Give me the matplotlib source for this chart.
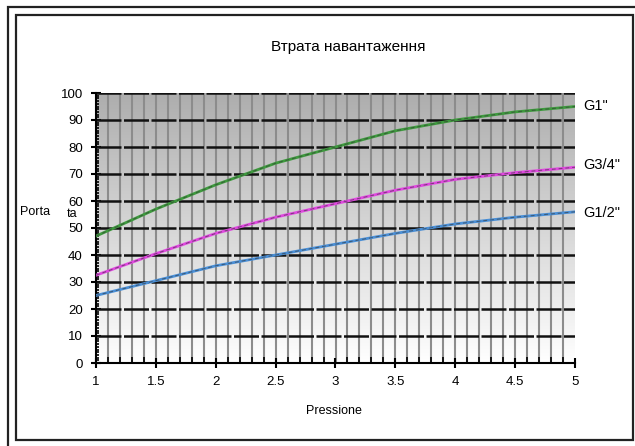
import matplotlib.pyplot as plt
import numpy as np
from matplotlib.patches import Rectangle

plt.rcParams['font.family'] = ['Liberation Sans', 'DejaVu Sans']

# data
pressione = [1, 1.5, 2, 2.5, 3, 3.5, 4, 4.5, 5]
g1 = [47, 57, 66, 74, 80, 86, 90, 93, 95]
g34 = [32.5, 40.5, 48, 54, 59, 64, 68, 70.5, 72.5]
g12 = [25, 30.5, 36, 40, 44, 48, 51.5, 54, 56]
series = [("G1\"", g1, "#3e9a3e"), ("G3/4\"", g34, "#e048e0"), ("G1/2\"", g12, "#4a8fd6")]
label_y = [95, 73.5, 55.5]

W, H = 635, 446
fig = plt.figure(figsize=(W / 100, H / 100), dpi=100)
ax = fig.add_axes([96 / W, 1 - 363 / H, (575 - 96) / W, 270 / H])

# gray (top) to white (bottom) gradient in the plot area
shade = np.linspace(0.68, 1.0, 256)
grad = np.repeat(shade[:, None, None], 3, axis=2)
ax.imshow(grad, extent=[1, 5, 0, 100], aspect='auto', origin='upper', zorder=0)

# grid: gray verticals every 0.1, black horizontals every 10
for xv in np.arange(1.1, 5.0, 0.1):
    ax.axvline(xv, color='#8c8c8c', lw=1.5, zorder=1)
for yv in range(10, 101, 10):
    ax.axhline(yv, color='#111111', lw=1.8, ls=(0, (10, 1)), zorder=2)

for (name, vals, col), ly in zip(series, label_y):
    ax.plot(pressione, vals, color=col, lw=2.0, zorder=3)
    ax.plot(pressione, vals, color='#333333', lw=0.7, ls=(0, (4, 3)), alpha=0.6, zorder=4)
    ax.text(5.07, ly, name, fontsize=10.5, va='center', ha='left', clip_on=False)

ax.set_xlim(1, 5)
ax.set_ylim(0, 100)
ax.set_xticks(np.arange(1, 5.01, 0.5))
ax.set_xticklabels(['1', '1.5', '2', '2.5', '3', '3.5', '4', '4.5', '5'])
ax.set_xticks(np.arange(1, 5.01, 0.1), minor=True)
ax.set_yticks(range(0, 101, 10))
ax.set_yticks(range(0, 101, 1), minor=True)
ax.tick_params(axis='both', which='major', direction='inout', length=7, width=1.5,
               labelsize=9.5, pad=6)
ax.tick_params(axis='x', which='minor', direction='in', length=4, width=1.2)
ax.tick_params(axis='y', which='minor', direction='in', length=2.5, width=1.2)
for side in ['top', 'right']:
    ax.spines[side].set_visible(False)
ax.spines['left'].set_linewidth(1.5)
ax.spines['bottom'].set_linewidth(1.5)

fig.text(348 / W, 1 - 47 / H, "Втрата навантаження", fontsize=11, ha='center', va='center')
fig.text(334 / W, 1 - 411 / H, "Pressione", fontsize=9, ha='center', va='center')
fig.text(20 / W, 1 - 212 / H, "Porta", fontsize=9, ha='left', va='center')
fig.text(67 / W, 1 - 214 / H, "ta", fontsize=9, ha='left', va='center')

# double border around the chart
fig.patches.append(Rectangle((8 / W, -0.1), 1.2, 1 - 6.5 / H + 0.1, transform=fig.transFigure,
                             fill=False, ec='#222222', lw=1.6))
fig.patches.append(Rectangle((16 / W, 1 - 440 / H), (633 - 16) / W, (440 - 15) / H,
                             transform=fig.transFigure, fill=False, ec='#222222', lw=1.6))

fig.savefig("out.png", dpi=100)
